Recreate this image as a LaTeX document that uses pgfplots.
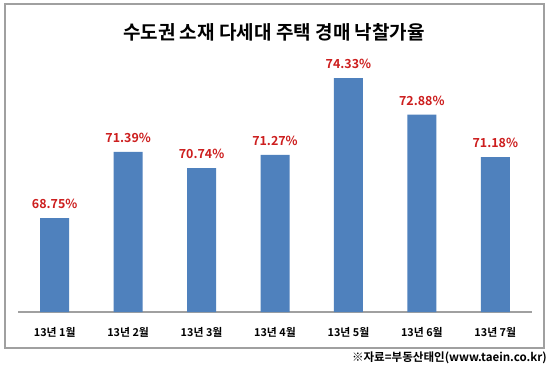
\documentclass[border=0pt]{standalone}
\usepackage{fontspec}
\setmainfont{Noto Sans CJK KR}[BoldFont={Noto Sans CJK KR Bold}]
\usepackage{pgfplots}
\pgfplotsset{compat=1.18}
\definecolor{barblue}{RGB}{79,129,189}
\definecolor{labred}{RGB}{205,30,30}
\definecolor{framegray}{RGB}{160,160,160}
\begin{document}
\begin{tikzpicture}[x=1bp,y=1bp]
\path[use as bounding box] (0,0) rectangle (550,369);
\fill[white] (0,0) rectangle (550,369);
\draw[framegray, line width=1.2bp] (5,21) rectangle (544,365);
\node[font=\bfseries\fontsize{19.1}{23}\selectfont] at (274,337) {수도권 소재 다세대 주택 경매 낙찰가율};
\node[anchor=east, inner sep=0pt, font=\bfseries\fontsize{11.6}{14}\selectfont] at (547,11) {※자료=부동산태인(www.taein.co.kr)};
\begin{axis}[
  at={(18bp,57bp)}, anchor=south west,
  scale only axis, width=514bp, height=275.6bp,
  xmin=-0.5, xmax=6.5, ymin=65, ymax=76,
  axis y line=none, axis x line*=bottom,
  x axis line style={framegray, line width=1.5bp, -},
  xtick=data, major tick length=0pt,
  xticklabels={13년 1월,13년 2월,13년 3월,13년 4월,13년 5월,13년 6월,13년 7월},
  xticklabel style={anchor=center, yshift=-20bp, inner sep=0pt, font=\bfseries\fontsize{10.9}{13}\selectfont},
  ybar, bar width=29bp,
  /pgf/number format/assume math mode=true,
  nodes near coords={\pgfmathprintnumber[fixed,fixed zerofill,precision=2,assume math mode=true]{\pgfplotspointmeta}\%},
  nodes near coords style={anchor=center, inner sep=0pt, yshift=14bp, text=labred, font=\bfseries\fontsize{12.5}{15}\selectfont},
  clip=false,
]
\addplot[fill=barblue, draw=none] coordinates {(0,68.75) (1,71.39) (2,70.74) (3,71.27) (4,74.33) (5,72.88) (6,71.18)};
\end{axis}
\end{tikzpicture}
\end{document}
